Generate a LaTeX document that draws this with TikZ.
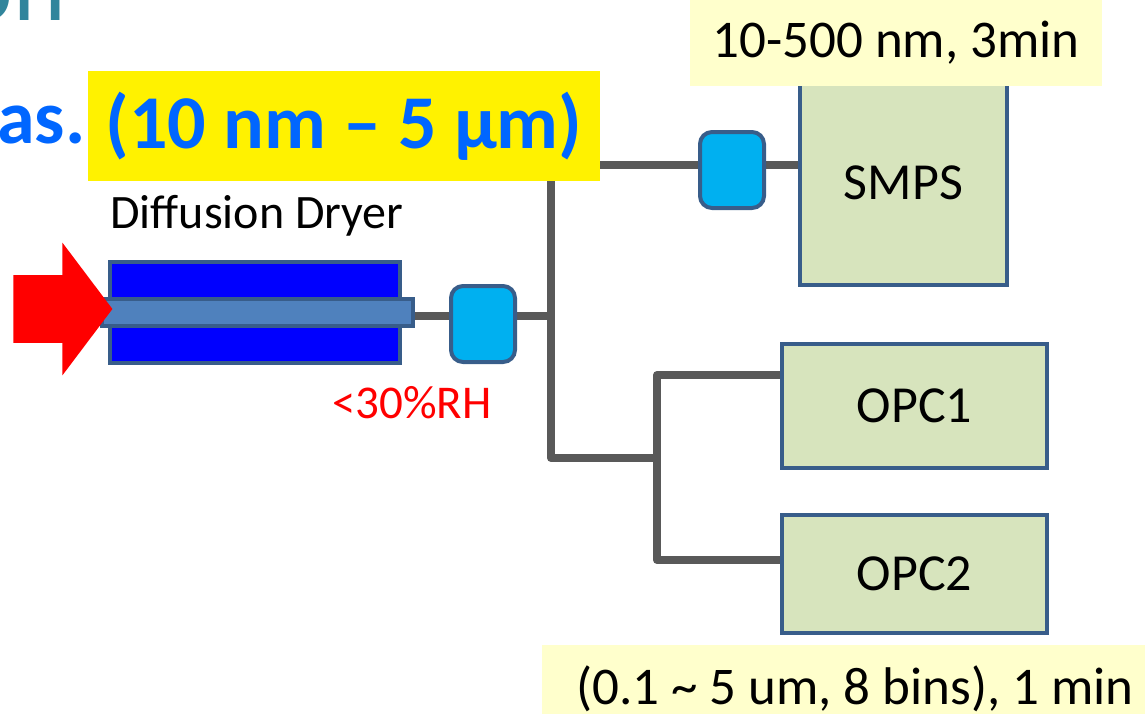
\documentclass[tikz,border=0pt]{standalone}
\usepackage{fontspec}
\setmainfont{Carlito}
\usetikzlibrary{shapes.arrows, positioning, backgrounds}
\definecolor{TitleTeal}{HTML}{31859C}
\definecolor{RangeBlue}{HTML}{0066FF}
\definecolor{EdgeBlue}{HTML}{385D8A}
\definecolor{DryerBlue}{HTML}{0000FF}
\definecolor{TubeBlue}{HTML}{4F81BD}
\definecolor{ValveCyan}{HTML}{00B0F0}
\definecolor{PipeGray}{HTML}{595959}
\definecolor{BoxGreen}{HTML}{D7E4BD}
\definecolor{NoteYellow}{HTML}{FFFFCC}

\tikzset{
  pipe/.style={draw=PipeGray, line width=4pt, line join=round},
  valve/.style={draw=EdgeBlue, fill=ValveCyan, line width=2pt, rounded corners=6pt,
                minimum width=32pt, minimum height=38pt, inner sep=0pt},
  instrument/.style={draw=EdgeBlue, fill=BoxGreen, line width=2pt, inner sep=0pt,
                     font=\fontsize{26}{30}\selectfont},
  note/.style={fill=NoteYellow, inner sep=0pt, font=\fontsize{26.5}{30}\selectfont},
}

\begin{document}
\begin{tikzpicture}[x=0.5pt, y=-0.5pt]
  \useasboundingbox (0,0) rectangle (1145,713);
  \clip (0,0) rectangle (1145,713);

  % heading fragments
  \node[anchor=base east, inner sep=0pt, text=TitleTeal,
        font=\fontsize{50}{56}\selectfont] (title) at (66,20) {on};
  \node[anchor=base west, inner sep=0pt, text=RangeBlue,
        font=\fontsize{38}{44}\selectfont\bfseries] (meas) at (-3,143) {as.};
  \node[fill=yellow, minimum width=256pt, minimum height=55pt, inner sep=0pt, text=RangeBlue,
        font=\fontsize{38}{44}\selectfont\bfseries] (range) at (344,126) {(10 nm \textendash{} 5 μm)};

  % diffusion dryer
  \node[draw=EdgeBlue, fill=DryerBlue, line width=2pt, minimum width=145pt,
        minimum height=50.5pt, inner sep=0pt] (dryer) at (255,312.5) {};
  \node[draw=EdgeBlue, fill=TubeBlue, line width=2pt, minimum width=155.5pt,
        minimum height=13.5pt, inner sep=0pt] (tube) at (257.5,312.5) {};
  \node[single arrow, fill=red, inner sep=0pt, text height=33.5pt, text depth=0pt,
        minimum height=49.5pt, single arrow head extend=16.25pt,
        single arrow tip angle=106, anchor=tail] (inlet) at (13,309) {};
  \node[anchor=base, font=\fontsize{24}{28}\selectfont] (dryerlabel) at (257,228) {Diffusion Dryer};
  \node[anchor=base, text=red, font=\fontsize{23.5}{28}\selectfont] (rh) at (412,418) {<30\%RH};

  % valves
  \node[valve] (valve1) at (483,324) {};
  \node[valve] (valve2) at (732,170) {};

  % instruments
  \node[instrument, minimum width=103.5pt, minimum height=102.5pt] (smps) at (903.5,182.5) {SMPS};
  \node[instrument, minimum width=132.5pt, minimum height=62pt] (opc1) at (914.5,406) {OPC1};
  \node[instrument, minimum width=132.5pt, minimum height=59pt] (opc2) at (914.5,574) {OPC2};

  % notes
  \node[note, minimum width=206pt, minimum height=43pt] (smpsnote) at (896,43) {10-500 nm, 3min};
  \node[note, minimum width=313pt, minimum height=44pt] (opcnote) at (855,689)
       {(0.1 \textasciitilde{} 5 um, 8 bins), 1 min};

  % sample lines
  \coordinate (split) at (551,316);
  \coordinate (fork) at (657,458);
  \begin{scope}[on background layer]
    \draw[pipe] (tube.east |- split) -- (split);
    \draw[pipe] (split) |- ([yshift=8.75pt]smps.west);
    \draw[pipe] (split) |- (fork);
    \draw[pipe] ([yshift=15.5pt]opc1.west) -| (fork) |- ([yshift=7pt]opc2.west);
  \end{scope}
\end{tikzpicture}
\end{document}
